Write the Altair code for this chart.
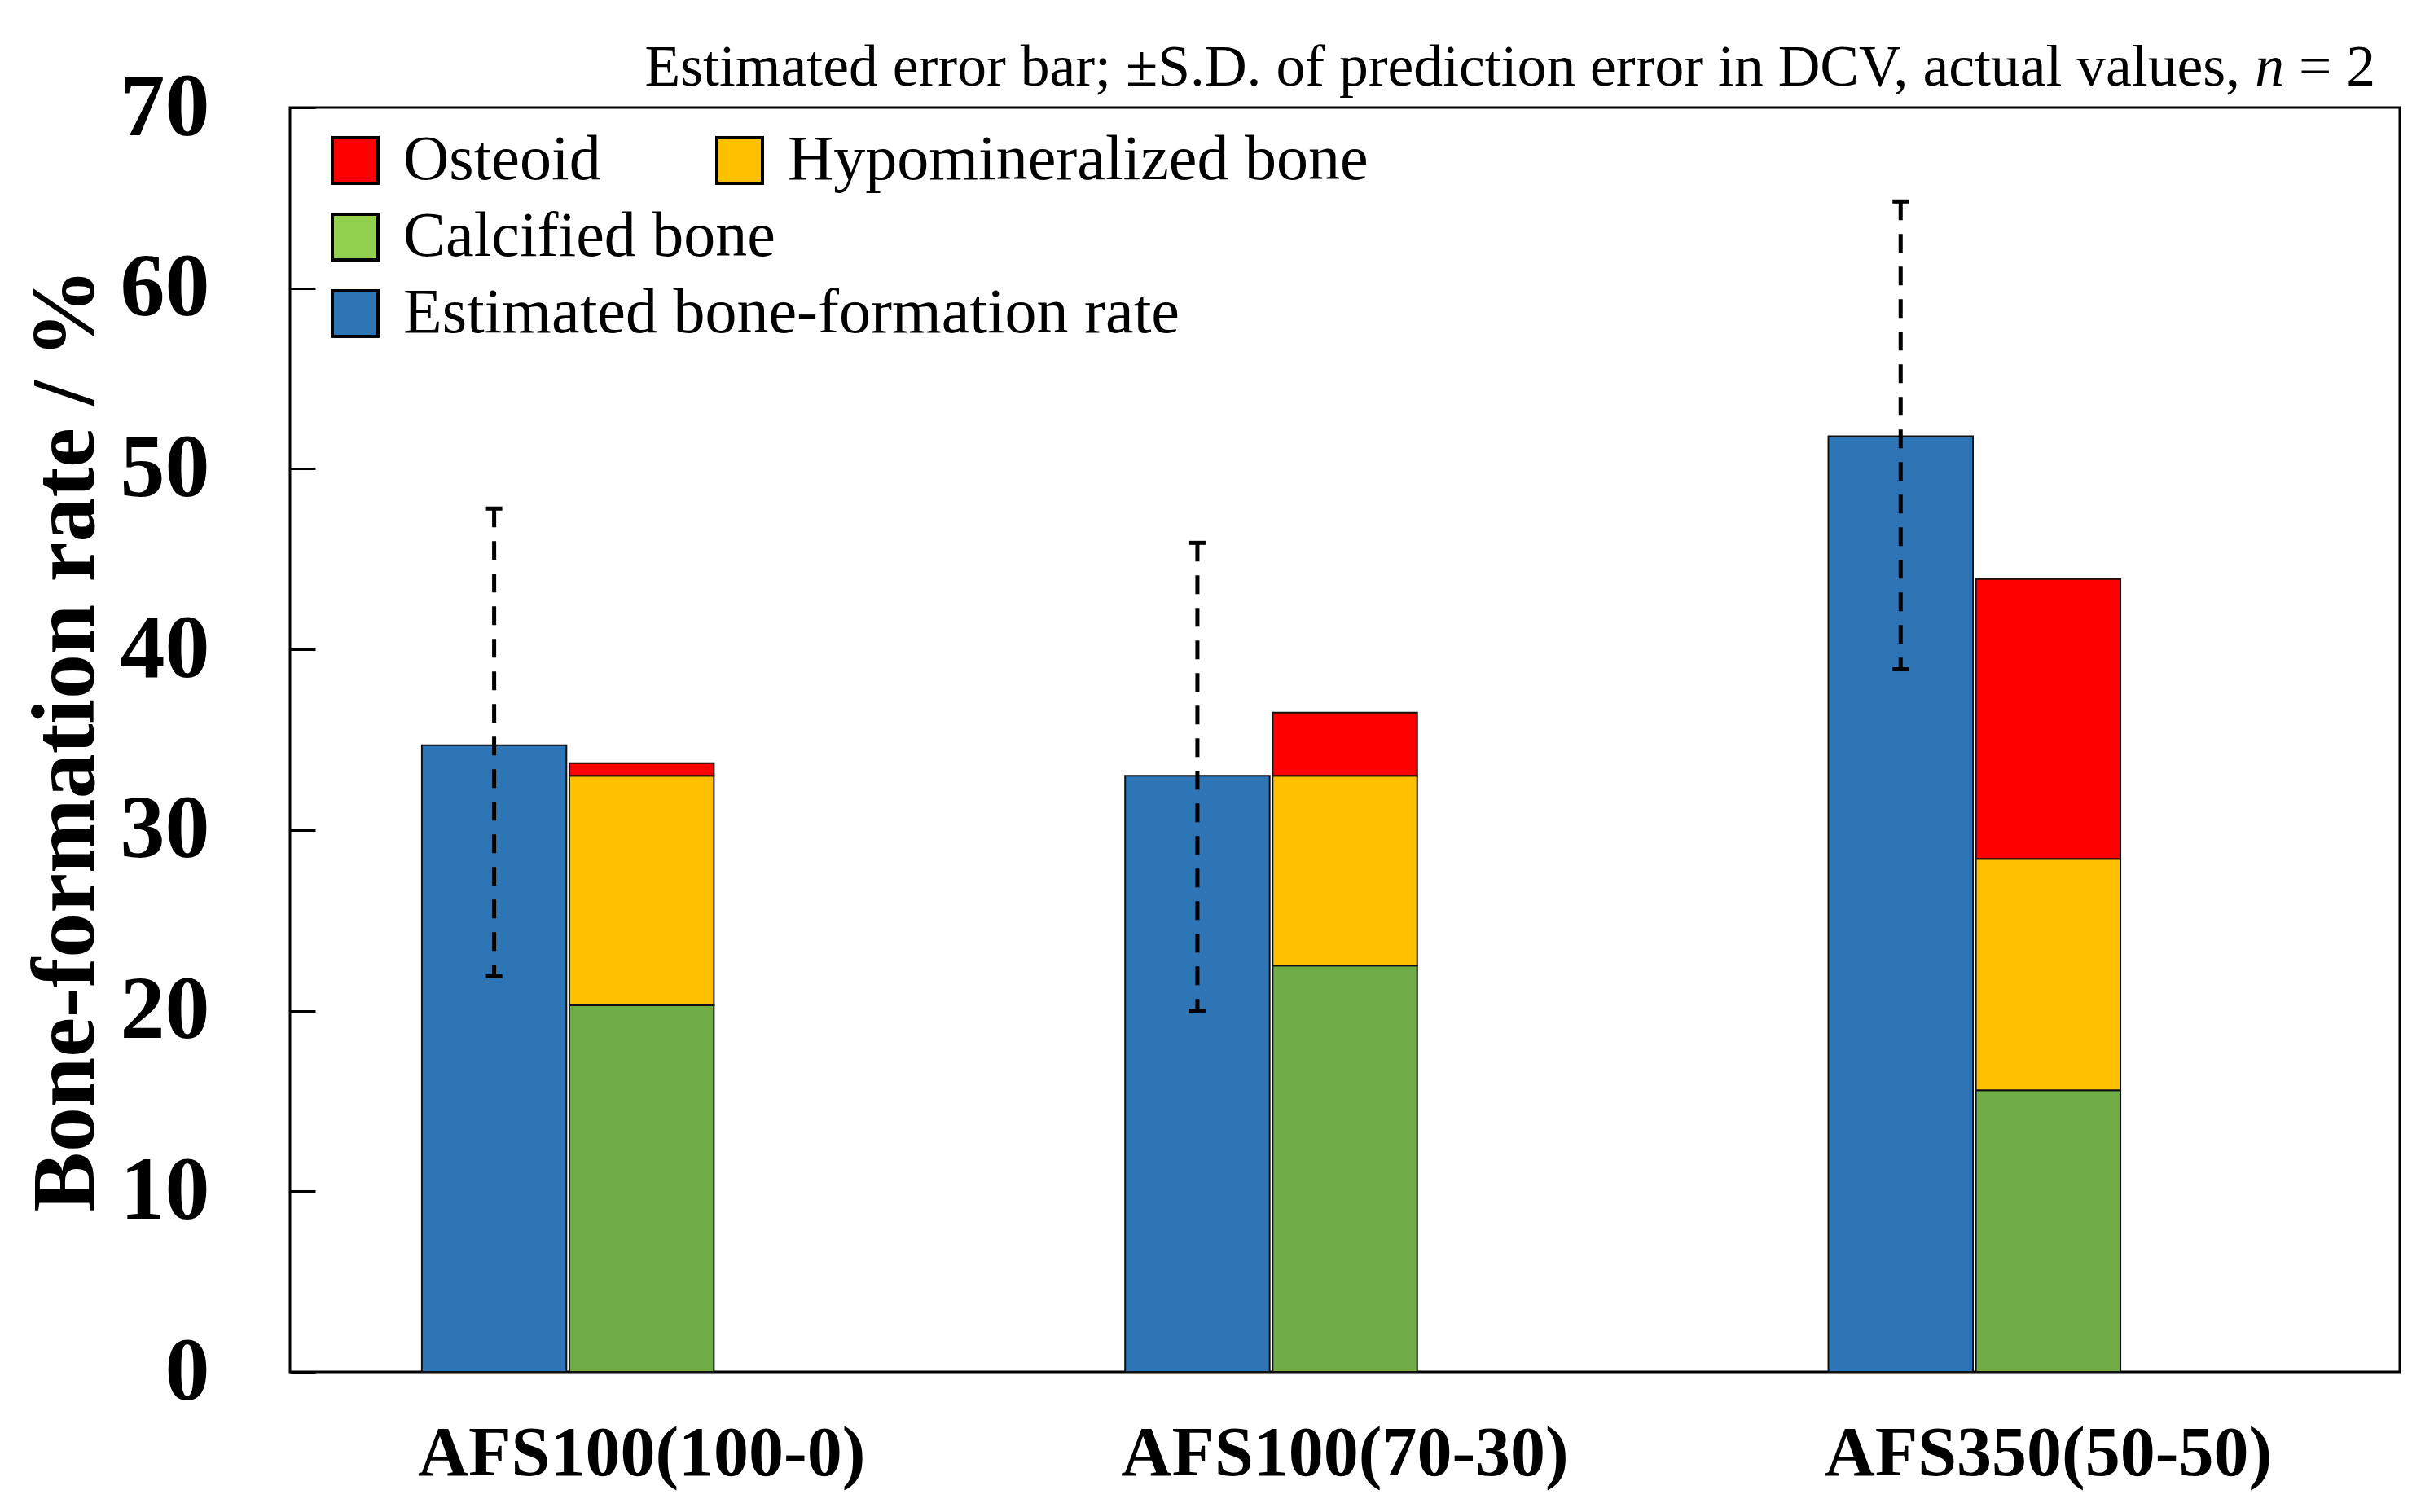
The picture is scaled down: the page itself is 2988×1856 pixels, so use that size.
import altair as alt
import pandas as pd

# ---- data ----
groups = ["AFS100(100-0)", "AFS100(70-30)", "AFS350(50-50)"]
estimated = [34.7, 33.0, 51.8]
err_low = [21.9, 20.0, 38.9]
err_high = [47.8, 45.9, 64.8]
calcified = [20.3, 22.5, 15.6]
hypomineralized = [12.7, 10.5, 12.8]
osteoid = [0.7, 3.5, 15.5]

bar_parts = ["Osteoid", "Hypomineralized bone", "Calcified bone", "Estimated bone-formation rate"]
bar_colors = ["#FF0000", "#FFC000", "#70AD47", "#2E75B6"]
legend_row1 = ["Osteoid", "Hypomineralized bone"]
legend_row1_fills = ["#FF0000", "#FFC000"]
legend_rows23 = ["Calcified bone", "Estimated bone-formation rate"]
legend_rows23_fills = ["#92D050", "#2E75B6"]
kinds = ["Estimated", "Measured", "_"]
y_ticks = [0, 10, 20, 30, 40, 50, 60, 70]
title_parts = ["Estimated error bar; \u00b1S.D. of prediction error in DCV, actual values,", "n", "= 2"]
x_title = ""
y_title = "Bone-formation rate / %"

rows = []
for i, g in enumerate(groups):
    rows.append({"group": g, "kind": "Estimated", "part": bar_parts[3], "value": estimated[i], "order": 0})
    rows.append({"group": g, "kind": "Measured", "part": bar_parts[2], "value": calcified[i], "order": 1})
    rows.append({"group": g, "kind": "Measured", "part": bar_parts[1], "value": hypomineralized[i], "order": 2})
    rows.append({"group": g, "kind": "Measured", "part": bar_parts[0], "value": osteoid[i], "order": 3})
bars_df = pd.DataFrame(rows)
err_df = pd.DataFrame({"group": groups, "kind": ["Estimated"] * 3, "low": err_low, "high": err_high})

W, H = 2590, 1552
FONT = "Liberation Serif"

x_enc = alt.X("group:N", sort=groups, title=x_title,
              scale=alt.Scale(domain=groups, paddingInner=0, paddingOuter=0),
              axis=alt.Axis(labelAngle=0, labelFont=FONT, labelFontWeight="bold",
                            labelFontSize=86, labelColor="black", labelPadding=58,
                            ticks=False, domain=False, labelLimit=0))
xo_enc = alt.XOffset("kind:N", sort=kinds,
                     scale=alt.Scale(domain=kinds, paddingInner=0.02, paddingOuter=0.894))
y_scale = alt.Scale(domain=[0, 70], nice=False, zero=True)
y_axis = alt.Axis(values=y_ticks, format="d", labelFont=FONT, labelFontWeight="bold",
                  labelFontSize=110, labelColor="black", labelPadding=99,
                  tickSize=31, tickWidth=3, tickColor="black", offset=-31,
                  domain=False, grid=False, title=y_title, titleFont=FONT,
                  titleFontWeight="bold", titleFontSize=110, titleColor="black",
                  titlePadding=50)

common_legend = dict(orient="none", title=None, labelFont=FONT, labelFontSize=78,
                     labelColor="black", symbolType="square", symbolSize=3136,
                     symbolStrokeWidth=4, symbolStrokeColor="black", labelOffset=20,
                     rowPadding=16, padding=0, labelLimit=0, symbolOpacity=1)
legend_a = alt.Legend(legendX=41, legendY=26, direction="horizontal",
                      columnPadding=131, **common_legend)
legend_b = alt.Legend(legendX=41, legendY=120, direction="vertical", **common_legend)

bars = alt.Chart(bars_df).transform_stack(
    stack="value", groupby=["group", "kind"], sort=[alt.SortField("order")], as_=["y0", "y1"]
).mark_bar(stroke="#111111", strokeWidth=2, opacity=1).encode(
    x=x_enc,
    xOffset=xo_enc,
    y=alt.Y("y0:Q", scale=y_scale, axis=y_axis),
    y2="y1:Q",
    color=alt.Color("part:N", scale=alt.Scale(domain=bar_parts, range=bar_colors), legend=None),
)

legend_layer_a = alt.Chart(pd.DataFrame({"part": legend_row1})).mark_square(opacity=0).encode(
    fill=alt.Fill("part:N", sort=legend_row1,
                  scale=alt.Scale(domain=legend_row1, range=legend_row1_fills), legend=legend_a),
)
legend_layer_b = alt.Chart(pd.DataFrame({"part": legend_rows23})).mark_square(opacity=0).encode(
    color=alt.Color("part:N", sort=legend_rows23,
                    scale=alt.Scale(domain=legend_rows23, range=legend_rows23_fills), legend=legend_b),
)

err_rule = alt.Chart(err_df).mark_rule(color="black", strokeWidth=5, strokeDash=[23, 17]).encode(
    x=alt.X("group:N", sort=groups),
    xOffset=alt.XOffset("kind:N", sort=kinds),
    y=alt.Y("high:Q", scale=y_scale),
    y2="low:Q",
)

err_caps = alt.Chart(err_df).transform_fold(["low", "high"], as_=["end", "v"]).mark_tick(
    color="black", size=20, thickness=5, orient="horizontal", opacity=1
).encode(
    x=alt.X("group:N", sort=groups),
    xOffset=alt.XOffset("kind:N", sort=kinds),
    y=alt.Y("v:Q", scale=y_scale),
)

TFS = 71.6
title_df = pd.DataFrame({"t": title_parts})
t_main = alt.Chart(title_df.iloc[[0]]).mark_text(
    font=FONT, fontSize=TFS, color="black", align="right", baseline="alphabetic"
).encode(text="t:N", x=alt.value(2394), y=alt.value(-27))
t_n = alt.Chart(title_df.iloc[[1]]).mark_text(
    font=FONT, fontSize=TFS, fontStyle="italic", color="black", align="right", baseline="alphabetic"
).encode(text="t:N", x=alt.value(2448), y=alt.value(-27))
t_eq = alt.Chart(title_df.iloc[[2]]).mark_text(
    font=FONT, fontSize=TFS, color="black", align="right", baseline="alphabetic"
).encode(text="t:N", x=alt.value(2560), y=alt.value(-27))

chart = alt.layer(
    bars, err_rule, err_caps, legend_layer_a, legend_layer_b, t_main, t_n, t_eq
).resolve_scale(color="independent").properties(
    width=W, height=H,
    autosize=alt.AutoSizeParams(type="none"),
    padding={"left": 348, "top": 124, "right": 10, "bottom": 150},
    background="white",
).configure_view(stroke="black", strokeWidth=3, fill="white")

chart.save("out.html", embed_options={"renderer": "svg", "actions": False})
